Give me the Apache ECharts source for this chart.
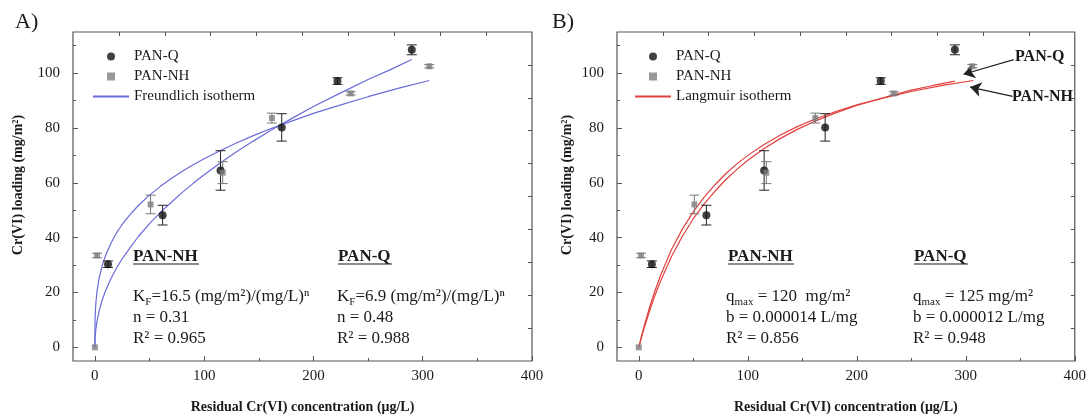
<!DOCTYPE html>
<html>
<head>
<meta charset="utf-8">
<script src="https://cdn.jsdelivr.net/npm/echarts@6/dist/echarts.min.js"></script>
<style>
  html, body { margin: 0; padding: 0; background: #fff; }
  #chart { width: 1089px; height: 419px; }
</style>
</head>
<body>
<div id="chart"></div>
<script>
// measured points: residual conc (µg/L), loading (mg/m²), error bar
const qX    = [12, 62, 115, 171, 222, 290];
const qY    = [30.3, 48.2, 64.5, 80.2, 97.1, 108.5];
const qErr  = [1.2, 3.6, 7.2, 5.0, 1.2, 1.8];
const nhX   = [0, 2, 51, 117, 162, 234, 306];
const nhY   = [0, 33.5, 52.1, 63.7, 83.6, 92.6, 102.5];
const nhErr = [0, 0.8, 3.4, 4.0, 1.8, 0.6, 0.6];

// fitted curves
const freQX  = [0, 0.2, 0.5, 1, 2, 4, 7, 10, 15, 20, 25, 32, 40, 50, 60, 70, 80, 90, 100, 115, 130, 145, 160, 180, 200, 225, 250, 270, 290];
const freQY  = [0, 3.2, 4.9, 6.9, 9.6, 13.4, 17.6, 20.8, 25.3, 29.0, 32.3, 36.2, 40.5, 45.1, 49.2, 52.9, 56.5, 59.8, 62.9, 67.3, 71.4, 75.2, 78.9, 83.4, 87.8, 92.8, 97.7, 101.2, 105.0];
const freNHX = [0, 0.2, 0.5, 1, 2, 4, 7, 10, 15, 20, 25, 32, 40, 50, 60, 70, 80, 90, 100, 115, 130, 145, 160, 180, 200, 225, 250, 280, 306];
const freNHY = [0, 10.0, 13.3, 16.5, 20.5, 25.4, 30.2, 33.7, 38.2, 41.8, 44.8, 48.3, 51.8, 55.5, 58.7, 61.6, 64.2, 66.6, 68.8, 71.8, 74.6, 77.2, 79.6, 82.5, 85.3, 88.4, 91.4, 94.7, 97.3];
const lanQX  = [0, 2, 5, 10, 15, 20, 30, 40, 50, 60, 70, 80, 90, 100, 115, 130, 145, 160, 180, 200, 225, 250, 270, 290];
const lanQY  = [0, 3.0, 7.1, 13.4, 19.1, 24.2, 33.1, 40.5, 46.9, 52.3, 57.0, 61.2, 64.9, 68.2, 72.5, 76.2, 79.4, 82.2, 85.4, 88.2, 91.1, 93.8, 95.5, 97.1];
const lanNHX = [0, 2, 5, 10, 15, 20, 30, 40, 50, 60, 70, 80, 90, 100, 115, 130, 145, 160, 180, 200, 225, 250, 280, 307];
const lanNHY = [0, 3.3, 7.9, 14.7, 20.8, 26.3, 35.7, 43.1, 49.4, 54.8, 59.3, 63.4, 66.9, 70.0, 74.0, 77.4, 80.4, 83.0, 85.9, 88.4, 91.0, 93.3, 95.6, 97.3];

// ticks
const X_MAJOR = [0, 100, 200, 300, 400];
const X_MINOR = [50, 150, 250, 350];
const X_TOP   = [22, 64, 106, 148, 190, 232, 274, 316, 358];
const Y_MAJOR = [0, 20, 40, 60, 80, 100];
const Y_MINOR = [10, 30, 50, 70, 90, 110];
const Y_RIGHT = [7, 19, 31, 43, 55, 67, 79, 91, 103];

// arrows in panel B: [from, to]
const ARROW_Q  = [[344, 104.9], [298, 99.6]];
const ARROW_NH = [[343, 91.5], [304, 94.9]];

const FONT = 'Liberation Serif';
const INK = '#1a1a1a';
const FRAME = '#555';
const BLUE = '#6b6bd8';
const RED = '#e2403e';

const pts = (xs, ys) => xs.map((x, i) => [x, ys[i]]);
const tick = (vals, len) => ({ inside: true, length: len, customValues: vals, lineStyle: { color: FRAME } });

function xAxes(g, name) {
  const base = { gridIndex: g, type: 'value', min: -20, max: 400,
    axisLine: { show: false, onZero: false }, splitLine: { show: false } };
  return [
    { ...base, position: 'bottom', name, nameLocation: 'middle', nameGap: 39,
      nameTextStyle: { fontFamily: FONT, fontWeight: 'bold', fontSize: 14, color: INK },
      axisTick: tick(X_MAJOR, 5),
      axisLabel: { customValues: X_MAJOR, fontFamily: FONT, fontSize: 15, color: INK, margin: 8 } },
    { ...base, position: 'bottom', axisTick: tick(X_MINOR, 3), axisLabel: { show: false } },
    { ...base, position: 'top', axisTick: tick(X_TOP, 4), axisLabel: { show: false } },
  ];
}

function yAxes(g) {
  const base = { gridIndex: g, type: 'value', min: -5, max: 115,
    axisLine: { show: false, onZero: false }, splitLine: { show: false } };
  return [
    { ...base, position: 'left', axisTick: tick(Y_MAJOR, 5),
      axisLabel: { customValues: Y_MAJOR, fontFamily: FONT, fontSize: 15, color: INK, margin: 13 } },
    { ...base, position: 'left', axisTick: tick(Y_MINOR, 3), axisLabel: { show: false } },
    { ...base, position: 'right', axisTick: tick(Y_RIGHT, 4), axisLabel: { show: false } },
  ];
}

function errorBars(xs, ys, es, color, ai) {
  return {
    type: 'custom', xAxisIndex: ai, yAxisIndex: ai, silent: true, z: 3,
    data: xs.map((x, i) => [x, ys[i], es[i]]),
    encode: { x: 0, y: 1 },
    renderItem(params, api) {
      const x = api.value(0), y = api.value(1), e = api.value(2);
      if (!e) return null;
      const top = api.coord([x, y + e]), bot = api.coord([x, y - e]);
      const w = 5, st = { stroke: color, lineWidth: 1 };
      return { type: 'group', children: [
        { type: 'line', shape: { x1: top[0], y1: top[1], x2: bot[0], y2: bot[1] }, style: st },
        { type: 'line', shape: { x1: top[0] - w, y1: top[1], x2: top[0] + w, y2: top[1] }, style: st },
        { type: 'line', shape: { x1: bot[0] - w, y1: bot[1], x2: bot[0] + w, y2: bot[1] }, style: st },
      ] };
    },
  };
}

const SQUARE = 'path://M0,0L10,0L10,10L0,10Z';

function panelSeries(ai, fitName, color, qFit, nhFit, extra) {
  const line = (data) => ({
    type: 'line', name: fitName, xAxisIndex: ai, yAxisIndex: ai, data,
    symbol: 'none', smooth: false, z: 2,
    lineStyle: { color, width: 1.2 }, itemStyle: { color },
  });
  const qLine = line(qFit);
  if (extra) Object.assign(qLine, extra);
  return [
    line(nhFit), qLine,
    errorBars(qX, qY, qErr, '#222', ai),
    errorBars(nhX, nhY, nhErr, '#777', ai),
    { type: 'scatter', name: 'PAN-Q', xAxisIndex: ai, yAxisIndex: ai, data: pts(qX, qY),
      symbol: 'circle', symbolSize: 8, itemStyle: { color: '#111' }, z: 4 },
    { type: 'scatter', name: 'PAN-NH', xAxisIndex: ai, yAxisIndex: ai, data: pts(nhX, nhY),
      symbol: SQUARE, symbolSize: 6, itemStyle: { color: '#808080' }, z: 5 },
  ];
}

function legend(left, fitName) {
  return {
    orient: 'vertical', left, top: 44, itemWidth: 36, itemHeight: 8, itemGap: 5,
    selectedMode: false,
    textStyle: { fontFamily: FONT, fontSize: 15, color: INK },
    data: [
      { name: 'PAN-Q', icon: 'circle' },
      { name: 'PAN-NH', icon: SQUARE },
      { name: fitName, itemStyle: { opacity: 0 } },
    ],
  };
}

const txt = (x, y, text, opts = {}) => ({
  type: 'text', x, y, silent: true,
  style: Object.assign({ text, font: '17px "Liberation Serif"', fill: INK, textVerticalAlign: 'middle',
    rich: {
      t: { fontFamily: FONT, fontSize: 17, lineHeight: 22 },
      s: { fontFamily: FONT, fontSize: 11, verticalAlign: 'bottom' },
    } }, opts),
});
const heading = (x, y, text, w) => [
  txt(x, y, text, { font: 'bold 17px "Liberation Serif"' }),
  { type: 'line', silent: true, shape: { x1: x, y1: y + 7, x2: x + w, y2: y + 7 }, style: { stroke: INK, lineWidth: 1.2 } },
];
const yTitle = (x) => ({
  type: 'text', x, y: 185, rotation: Math.PI / 2, silent: true,
  style: { text: 'Cr(VI) loading (mg/m²)', font: 'bold 14px "Liberation Serif"', fill: INK, textAlign: 'center', textVerticalAlign: 'middle' },
});

const graphics = [
  txt(15, 22, 'A)', { font: '22px "Liberation Serif"' }),
  txt(552, 22, 'B)', { font: '22px "Liberation Serif"' }),
  yTitle(18), yTitle(567),
  ...heading(133, 257, 'PAN-NH', 66),
  txt(133, 297, '{t|K}{s|F}{t|=16.5 (mg/m²)/(mg/L)ⁿ}'),
  txt(133, 318, 'n = 0.31'),
  txt(133, 339, 'R² = 0.965'),
  ...heading(338, 257, 'PAN-Q', 54),
  txt(337, 297, '{t|K}{s|F}{t|=6.9 (mg/m²)/(mg/L)ⁿ}'),
  txt(337, 318, 'n = 0.48'),
  txt(337, 339, 'R² = 0.988'),
  ...heading(728, 257, 'PAN-NH', 66),
  txt(726, 297, '{t|q}{s|max}{t| = 120  mg/m²}'),
  txt(726, 318, 'b = 0.000014 L/mg'),
  txt(726, 339, 'R² = 0.856'),
  ...heading(914, 257, 'PAN-Q', 54),
  txt(913, 297, '{t|q}{s|max}{t| = 125 mg/m²}'),
  txt(913, 318, 'b = 0.000012 L/mg'),
  txt(913, 339, 'R² = 0.948'),
  txt(1015, 57, 'PAN-Q', { font: 'bold 16px "Liberation Serif"' }),
  txt(1012, 97, 'PAN-NH', { font: 'bold 16px "Liberation Serif"' }),
];

const arrows = {
  markLine: {
    silent: true, symbol: ['none', 'arrow'], symbolSize: 11, label: { show: false },
    lineStyle: { color: '#222', type: 'solid', width: 1.2 },
    data: [
      [{ coord: ARROW_Q[0] }, { coord: ARROW_Q[1] }],
      [{ coord: ARROW_NH[0] }, { coord: ARROW_NH[1] }],
    ],
  },
};

const chart = echarts.init(document.getElementById('chart'), null, { renderer: 'canvas' });
chart.setOption({
  backgroundColor: '#fff',
  animation: false,
  grid: [
    { left: 73, top: 32, width: 459, height: 334, show: true, borderColor: FRAME, borderWidth: 1.2, backgroundColor: 'transparent' },
    { left: 617, top: 32, width: 459, height: 334, show: true, borderColor: FRAME, borderWidth: 1.2, backgroundColor: 'transparent' },
  ],
  xAxis: [...xAxes(0, 'Residual Cr(VI) concentration (μg/L)'), ...xAxes(1, 'Residual Cr(VI) concentration (μg/L)')],
  yAxis: [...yAxes(0), ...yAxes(1)],
  legend: [legend(87, 'Freundlich isotherm'), legend(629, 'Langmuir isotherm')],
  series: [
    ...panelSeries(0, 'Freundlich isotherm', BLUE, pts(freQX, freQY), pts(freNHX, freNHY)),
    ...panelSeries(3, 'Langmuir isotherm', RED, pts(lanQX, lanQY), pts(lanNHX, lanNHY), arrows),
  ],
  graphic: graphics,
});
</script>
</body>
</html>
